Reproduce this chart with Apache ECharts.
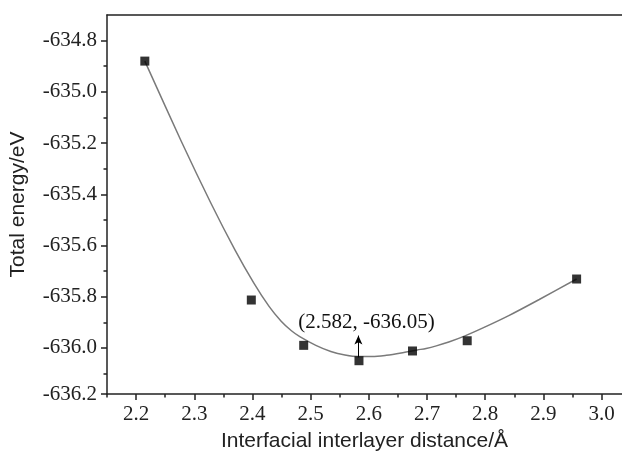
<!DOCTYPE html>
<html>
<head>
<meta charset="utf-8">
<script src="https://cdn.jsdelivr.net/npm/echarts@6/dist/echarts.min.js"></script>
<style>
html,body{margin:0;padding:0;background:#fff;}
#chart{width:622px;height:461px;}
</style>
</head>
<body>
<div id="chart"></div>
<script>
// Calculated points
const distance = [2.215, 2.398, 2.488, 2.583, 2.675, 2.769, 2.957];
const energy = [-634.88, -635.813, -635.99, -636.05, -636.012, -635.972, -635.731];
// Smoothed (B-spline-like) curve
const fitX = [2.215, 2.2774, 2.3284, 2.3696, 2.4024, 2.4285, 2.4493, 2.4664, 2.4813, 2.5089, 2.5346, 2.5589, 2.5825,
              2.6059, 2.6300, 2.6554, 2.6832, 2.6984, 2.7159, 2.7373, 2.7642, 2.7980, 2.8404, 2.8928, 2.957];
const fitY = [-634.880, -635.192, -635.434, -635.616, -635.747, -635.838, -635.896, -635.932, -635.956, -635.990, -636.014, -636.028, -636.034,
              -636.034, -636.029, -636.020, -636.008, -636.002, -635.992, -635.977, -635.954, -635.920, -635.874, -635.811, -635.731];
// Tick labels (lowest label sits on the bottom frame line in the original)
const xTicks = [2.2, 2.3, 2.4, 2.5, 2.6, 2.7, 2.8, 2.9, 3.0];
const xMinorTicks = [2.15, 2.25, 2.35, 2.45, 2.55, 2.65, 2.75, 2.85, 2.95];
const yTicks = [-636.18, -636.0, -635.8, -635.6, -635.4, -635.2, -635.0, -634.8];
const yMinorTicks = [-636.1, -635.9, -635.7, -635.5, -635.3, -635.1, -634.9];
// Annotation
const minPoint = [2.582, -636.05];
const minLabel = '(2.582, -636.05)';

const X_MIN = 2.15, X_MAX = 3.035, Y_MIN = -636.18, Y_MAX = -634.7;
const axisColor = '#222';
const serif = '"Liberation Serif","Times New Roman",serif';
const sans = '"Liberation Sans",Arial,sans-serif';

const chart = echarts.init(document.getElementById('chart'), null, {renderer: 'canvas'});
chart.setOption({
  animation: false,
  backgroundColor: '#fff',
  grid: {left: 107, top: 15, right: 0, bottom: 67, containLabel: false},
  xAxis: [
    {
      type: 'value', position: 'bottom', min: X_MIN, max: X_MAX,
      name: 'Interfacial interlayer distance/Å', nameLocation: 'middle', nameGap: 37,
      nameTextStyle: {fontFamily: sans, fontSize: 21, color: axisColor},
      axisLine: {show: true, onZero: false, lineStyle: {color: axisColor, width: 1.5}},
      axisTick: {show: true, inside: false, length: 6, lineStyle: {color: axisColor, width: 1.5}, customValues: xTicks},
      axisLabel: {show: true, margin: 10, fontFamily: serif, fontSize: 21, color: axisColor, customValues: xTicks,
        formatter: v => Number(v).toFixed(1)},
      splitLine: {show: false}
    },
    {
      type: 'value', position: 'bottom', min: X_MIN, max: X_MAX,
      axisLine: {show: false},
      axisTick: {show: true, inside: false, length: 3.5, lineStyle: {color: axisColor, width: 1.5}, customValues: xMinorTicks},
      axisLabel: {show: false},
      splitLine: {show: false}
    },
    {
      type: 'value', position: 'top', min: X_MIN, max: X_MAX,
      axisLine: {show: true, onZero: false, lineStyle: {color: axisColor, width: 1.5}},
      axisTick: {show: false}, axisLabel: {show: false}, splitLine: {show: false}
    }
  ],
  yAxis: [
    {
      type: 'value', position: 'left', min: Y_MIN, max: Y_MAX,
      name: 'Total energy/eV', nameLocation: 'middle', nameGap: 78, nameRotate: 90,
      nameTextStyle: {fontFamily: sans, fontSize: 21, color: axisColor},
      axisLine: {show: true, onZero: false, lineStyle: {color: axisColor, width: 1.5}},
      axisTick: {show: true, inside: false, length: 6, lineStyle: {color: axisColor, width: 1.5}, customValues: yTicks},
      axisLabel: {show: true, margin: 10, fontFamily: serif, fontSize: 21, color: axisColor, customValues: yTicks,
        formatter: v => Number(v).toFixed(1)},
      splitLine: {show: false}
    },
    {
      type: 'value', position: 'left', min: Y_MIN, max: Y_MAX,
      axisLine: {show: false},
      axisTick: {show: true, inside: false, length: 3.5, lineStyle: {color: axisColor, width: 1.5}, customValues: yMinorTicks},
      axisLabel: {show: false},
      splitLine: {show: false}
    }
  ],
  series: [
    {
      type: 'line', xAxisIndex: 0, yAxisIndex: 0,
      data: fitX.map((x, i) => [x, fitY[i]]),
      smooth: 0.3, showSymbol: false, symbol: 'none',
      lineStyle: {color: '#7a7a7a', width: 1.5},
      z: 2
    },
    {
      type: 'scatter', xAxisIndex: 0, yAxisIndex: 0,
      data: distance.map((x, i) => [x, energy[i]]),
      symbol: 'rect', symbolSize: 9,
      itemStyle: {color: '#000'},
      z: 3,
      markLine: {
        silent: true, animation: false,
        symbol: ['none', 'arrow'], symbolSize: [6, 9],
        lineStyle: {color: '#000', width: 1, type: 'solid'},
        label: {show: false},
        data: [[{coord: [minPoint[0], -636.037]}, {coord: [minPoint[0], -635.952]}]]
      },
      markPoint: {
        silent: true, animation: false,
        symbol: 'rect', symbolSize: 1,
        itemStyle: {color: 'rgba(0,0,0,0)'},
        label: {show: true, position: 'inside', fontFamily: serif, fontSize: 21, color: '#111', formatter: minLabel},
        data: [{coord: [2.596, -635.90]}]
      }
    }
  ]
});
</script>
</body>
</html>
